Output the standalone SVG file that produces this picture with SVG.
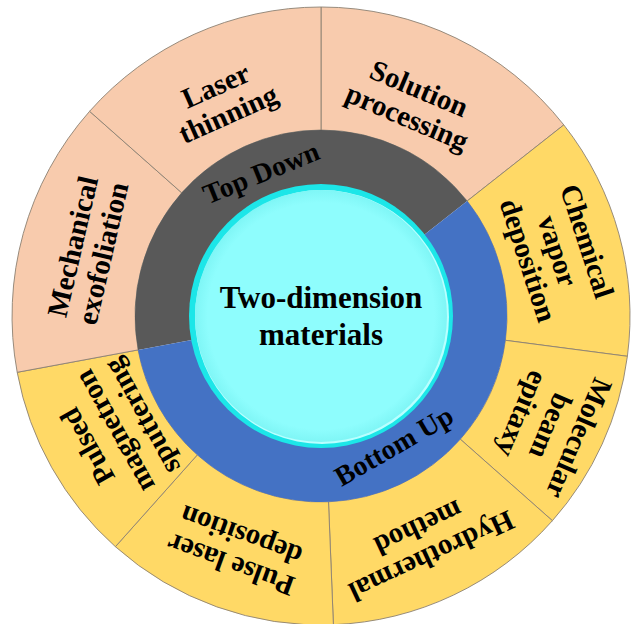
<svg xmlns="http://www.w3.org/2000/svg" width="631" height="624" viewBox="0 0 631 624">
<style>
.peach{fill:#F8CBAD;stroke:#8C8173;stroke-width:0.9}
.yellow{fill:#FFD966;stroke:#8C8173;stroke-width:0.9}
.lbl{font-family:"Liberation Serif","Times New Roman",serif;font-weight:bold;font-size:29px;fill:#000;text-anchor:middle}
.ring{font-family:"Liberation Serif","Times New Roman",serif;font-weight:bold;font-size:28px;fill:#000;text-anchor:middle}
.ctr{font-family:"Liberation Serif","Times New Roman",serif;font-weight:bold;font-size:31px;fill:#000;text-anchor:middle}
</style>
<defs>
<radialGradient id="cy" cx="0.5" cy="0.5" r="0.5">
<stop offset="0.9" stop-color="#8EFDFD"/>
<stop offset="1" stop-color="#7FF6F6"/>
</radialGradient>
</defs>
<rect width="631" height="624" fill="#FFFFFF"/>

<g id="solution-processing">
<path class="peach" d="M321,130 L321,7 A309,309 0 0 1 563.8,124.9 L467.2,201 A186,186 0 0 0 321,130 Z"/>
<g transform="translate(413,103) rotate(23)"><text class="lbl" x="0" y="-6">Solution</text><text class="lbl" x="0" y="25">processing</text></g>
</g>
<g id="chemical-vapor-deposition">
<path class="yellow" d="M467.2,201 L563.8,124.9 A309,309 0 0 1 627.4,356.3 L505.4,340.3 A186,186 0 0 0 467.2,201 Z"/>
<g transform="translate(557,251) rotate(72)"><text class="lbl" x="0" y="-22">Chemical</text><text class="lbl" x="0" y="9">vapor</text><text class="lbl" x="0" y="40">deposition</text></g>
</g>
<g id="molecular-beam-epitaxy">
<path class="yellow" d="M505.4,340.3 L627.4,356.3 A309,309 0 0 1 552.4,520.7 L460.3,439.2 A186,186 0 0 0 505.4,340.3 Z"/>
<g transform="translate(550,426) rotate(113)"><text class="lbl" x="0" y="-22">Molecular</text><text class="lbl" x="0" y="9">beam</text><text class="lbl" x="0" y="40">epitaxy</text></g>
</g>
<g id="hydrothermal-method">
<path class="yellow" d="M460.3,439.2 L552.4,520.7 A309,309 0 0 1 333.4,624.7 L328.5,501.8 A186,186 0 0 0 460.3,439.2 Z"/>
<g transform="translate(425,542) rotate(155)"><text class="lbl" x="0" y="-6">Hydrothermal</text><text class="lbl" x="0" y="25">method</text></g>
</g>
<g id="pulse-laser-deposition">
<path class="yellow" d="M328.5,501.8 L333.4,624.7 A309,309 0 0 1 115.4,546.7 L197.3,454.9 A186,186 0 0 0 328.5,501.8 Z"/>
<g transform="translate(236,550) rotate(200)"><text class="lbl" x="0" y="-6">Pulse laser</text><text class="lbl" x="0" y="25">deposition</text></g>
</g>
<g id="pulsed-magnetron-sputtering">
<path class="yellow" d="M197.3,454.9 L115.4,546.7 A309,309 0 0 1 17.2,372.3 L138.1,349.9 A186,186 0 0 0 197.3,454.9 Z"/>
<g transform="translate(115,431) rotate(241)"><text class="lbl" x="0" y="-22">Pulsed</text><text class="lbl" x="0" y="9">magnetron</text><text class="lbl" x="0" y="40">sputtering</text></g>
</g>
<g id="mechanical-exfoliation">
<path class="peach" d="M138.1,349.9 L17.2,372.3 A309,309 0 0 1 89.6,111.3 L181.7,192.8 A186,186 0 0 0 138.1,349.9 Z"/>
<g transform="translate(88,250) rotate(-77)"><text class="lbl" x="0" y="-6">Mechanical</text><text class="lbl" x="0" y="25">exofoliation</text></g>
</g>
<g id="laser-thinning">
<path class="peach" d="M181.7,192.8 L89.6,111.3 A309,309 0 0 1 321,7 L321,130 A186,186 0 0 0 181.7,192.8 Z"/>
<g transform="translate(222,100) rotate(-24)"><text class="lbl" x="0" y="-6">Laser</text><text class="lbl" x="0" y="25">thinning</text></g>
</g>

<g id="top-down">
<path d="M321,316 L138.1,349.9 A186,186 0 0 1 467.2,201 Z" fill="#595959"/>
<text class="ring" transform="translate(262,175) rotate(-22)" x="0" y="7">Top Down</text>
</g>
<g id="bottom-up">
<path d="M321,316 L467.2,201 A186,186 0 1 1 138.1,349.9 Z" fill="#4472C4"/>
<text class="ring" transform="translate(395,448) rotate(-30)" x="0" y="7">Bottom Up</text>
</g>

<g id="two-dimension-materials">
<circle cx="321" cy="316" r="132" fill="#1CE6E8"/>
<circle cx="322" cy="317" r="127" fill="#B8FFFF"/>
<circle cx="321" cy="316" r="126" fill="url(#cy)"/>
<text class="ctr" x="321" y="308">Two-dimension</text>
<text class="ctr" x="321" y="345">materials</text>
</g>
</svg>
